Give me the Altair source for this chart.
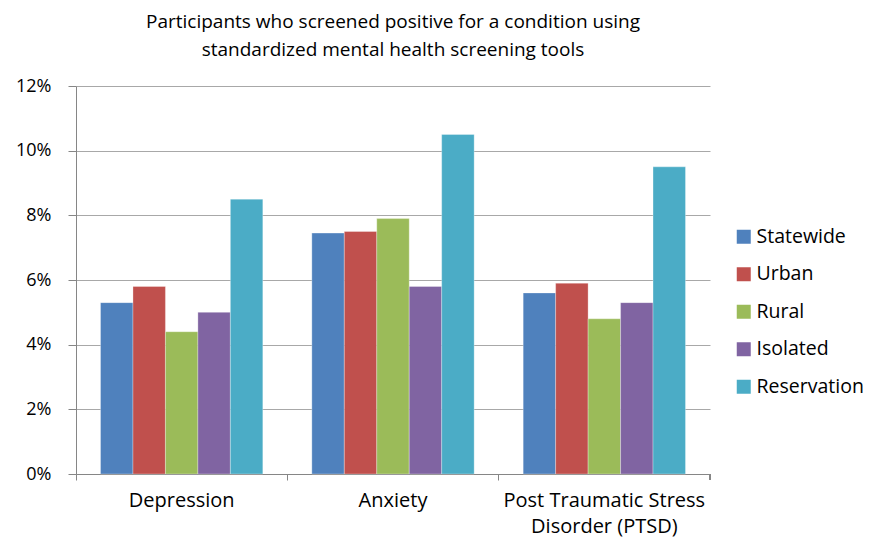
import altair as alt
import pandas as pd

categories = ["Depression", "Anxiety", "Post Traumatic Stress Disorder (PTSD)"]
series = ["Statewide", "Urban", "Rural", "Isolated", "Reservation"]
colors = ["#4F81BD", "#C0504D", "#9BBB59", "#8064A2", "#4BACC6"]

depression = [0.053, 0.058, 0.044, 0.050, 0.085]
anxiety = [0.0745, 0.075, 0.079, 0.058, 0.105]
ptsd = [0.056, 0.059, 0.048, 0.053, 0.095]

y_ticks = [0, 0.02, 0.04, 0.06, 0.08, 0.10, 0.12]

rows = []
for cat, vals in zip(categories, [depression, anxiety, ptsd]):
    for s, v in zip(series, vals):
        rows.append({"category": cat, "series": s, "value": v})
df = pd.DataFrame(rows)

FONT = "Open Sans"
W, H = 634, 388

bars = alt.Chart(df).mark_bar(stroke="white", strokeWidth=0.6, strokeOpacity=0.5).encode(
    x=alt.X("category:N", sort=categories,
            scale=alt.Scale(paddingInner=0, paddingOuter=0),
            axis=alt.Axis(title=None, labelAngle=0, bandPosition=0,
                          domainColor="#868686", tickColor="#868686", tickSize=6,
                          labelFont=FONT, labelFontSize=20, labelColor="#000000",
                          labelPadding=10, labelLineHeight=26, labelBaseline="top",
                          labelLimit=400,
                          labelExpr="datum.label == 'Post Traumatic Stress Disorder (PTSD)' ? ['Post Traumatic Stress', 'Disorder (PTSD)'] : datum.label")),
    xOffset=alt.XOffset("series:N", sort=series,
                        scale=alt.Scale(paddingOuter=0.755, paddingInner=0)),
    y=alt.Y("value:Q", scale=alt.Scale(domain=[0, 0.12], nice=False),
            axis=alt.Axis(title=None, values=y_ticks, format=".0%",
                          domainColor="#868686", tickColor="#868686", tickSize=8,
                          gridColor="#a8a8a8", grid=True,
                          labelFont=FONT, labelFontSize=18, labelColor="#000000",
                          labelPadding=17)),
    color=alt.Color("series:N", sort=series,
                    scale=alt.Scale(domain=series, range=colors),
                    legend=alt.Legend(title=None, orient="none", legendX=658, legendY=141,
                                      symbolType="square", symbolSize=196,
                                      symbolStrokeWidth=0, labelFont=FONT,
                                      labelFontSize=19.5, labelColor="#000000",
                                      rowPadding=16.5, labelOffset=3, labelLimit=300)),
)

end_tick = alt.Chart(df).mark_rule(color="#868686").encode(
    x=alt.value(W), y=alt.value(H), y2=alt.value(H + 6)
)

chart = alt.layer(bars, end_tick).properties(
    width=W, height=H,
    autosize=alt.AutoSizeParams(type="none"),
    padding={"left": 68, "top": 78, "right": 153, "bottom": 64},
    title=alt.TitleParams(
        text=["Participants who screened positive for a condition using",
              "standardized mental health screening tools"],
        font=FONT, fontSize=19, fontWeight="normal", color="#000000",
        anchor="middle", lineHeight=28, offset=17),
).configure_view(stroke=None)

chart.save("out.html", embed_options={"renderer": "svg", "actions": False})
